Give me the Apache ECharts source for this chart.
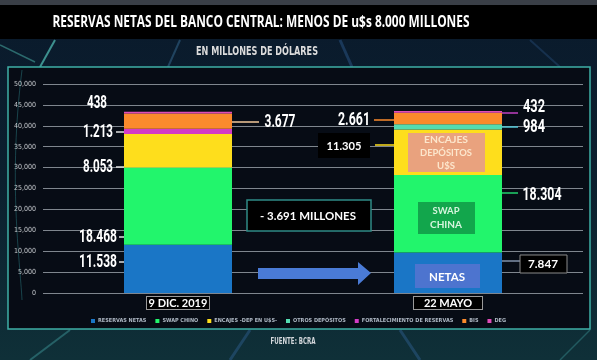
<!DOCTYPE html>
<html>
<head>
<meta charset="utf-8">
<script src="https://cdn.jsdelivr.net/npm/echarts@6/dist/echarts.min.js"></script>
<style>html,body{margin:0;padding:0;background:#0b1724;}#c{width:597px;height:360px;}</style>
</head>
<body>
<div id="c"></div>
<script>
// ---- data ----
var categories = ['9 DIC. 2019', '22 MAYO'];
var reservasNetas = [11538, 9700];
var swapChino = [18468, 18500];
var encajes = [8053, 10900];
var otrosDepositos = [0, 1270];
var fortalecimiento = [1213, 0];
var bis = [3677, 2750];
var deg = [438, 430];
var seriesNames = ['RESERVAS NETAS', 'SWAP CHINO', 'ENCAJES -DEP EN U$S-', 'OTROS DEPÓSITOS', 'FORTALECIMIENTO DE RESERVAS', 'BIS', 'DEG'];
var yTicks = { min: 0, max: 50000, interval: 5000 };
var labelsBar1 = ['438', '1.213', '8.053', '18.468', '11.538', '3.677'];
var labelsBar2 = ['2.661', '11.305', '432', '984', '18.304', '7.847'];
var diffText = '- 3.691 MILLONES';

var colors = ['#1a76c6', '#22f56c', '#fede1c', '#55dcb2', '#d33cc6', '#fb8a2c', '#e04cb8'];
var seriesData = [reservasNetas, swapChino, encajes, otrosDepositos, fortalecimiento, bis, deg];

var cv = document.createElement('canvas').getContext('2d');
function fit(text, font, w) { cv.font = font; var m = cv.measureText(text).width; return m ? w / m : 1; }
function txt(text, x, y, font, fill, w, z) {
  return { type: 'text', x: x, y: y, z: z || 100, scaleX: w ? fit(text, font, w) : 1,
    style: { text: text, font: font, fill: fill, textAlign: 'center', textVerticalAlign: 'middle', align: 'center', verticalAlign: 'middle' } };
}
function line(x1, y1, x2, y2, color, w, z, op) {
  return { type: 'line', z: z || 90, shape: { x1: x1, y1: y1, x2: x2, y2: y2 }, style: { stroke: color, lineWidth: w || 1.5, opacity: op == null ? 1 : op } };
}
function rect(x, y, w, h, fill, stroke, z, lw) {
  return { type: 'rect', z: z || 95, shape: { x: x, y: y, width: w, height: h }, style: { fill: fill, stroke: stroke || null, lineWidth: lw || 1 } };
}

var numFont = 'bold 18px Roboto';
var g = [];
// background
g.push({ type: 'rect', z: -20, shape: { x: 0, y: 0, width: 597, height: 360 },
  style: { fill: new echarts.graphic.LinearGradient(0, 0, 0, 1, [{ offset: 0, color: '#0a1a2c' }, { offset: 0.5, color: '#0b1f2e' }, { offset: 1, color: '#0f3038' }]) } });
g.push({ type: 'rect', z: -19, shape: { x: 0, y: 0, width: 597, height: 5 }, style: { fill: '#3a3f47' } });
g.push({ type: 'rect', z: -19, shape: { x: 0, y: 5, width: 597, height: 34 }, style: { fill: '#000000' } });
// streaks
g.push(line(55, 40, 40, 67, '#5fe0d0', 2, -18, 0.6));
g.push(line(0, 45, 35, 62, '#5fe0d0', 1.5, -18, 0.4));
g.push(line(180, 40, 168, 67, '#4a90c0', 2, -18, 0.35));
g.push(line(340, 40, 352, 67, '#3a6fb0', 3, -18, 0.35));
g.push(line(530, 40, 560, 67, '#3a6fb0', 2, -18, 0.25));
g.push(line(30, 360, 70, 330, '#4fc0c0', 2, -18, 0.35));
g.push(line(230, 360, 250, 330, '#3a6fb0', 3, -18, 0.35));
g.push(line(420, 360, 400, 330, '#3a6fb0', 3, -18, 0.35));
g.push(line(560, 360, 590, 330, '#4fc0c0', 1.5, -18, 0.3));
// panel
g.push({ type: 'rect', z: -17, shape: { x: 8, y: 67, width: 582, height: 262 }, style: { fill: '#070c15', stroke: '#3fb0a6', lineWidth: 1.5 } });
g.push({ type: 'bezierCurve', z: -16, shape: { x1: 22, y1: 70, x2: 22, y2: 300, cpx1: 8, cpy1: 180, cpx2: 20, cpy2: 260 }, style: { stroke: '#2a7a80', lineWidth: 1, opacity: 0.5, fill: null } });
// title texts
g.push(txt('RESERVAS NETAS DEL BANCO CENTRAL: MENOS DE u$s 8.000 MILLONES', 261, 22, 'bold 16px "Open Sans"', '#ffffff', 417));
g.push(txt('EN MILLONES DE DÓLARES', 257, 52, 'bold 13px "DejaVu Sans Condensed"', '#dcdcdc', 122));
g.push(txt('FUENTE: BCRA', 293, 342, 'bold 9px "DejaVu Sans Condensed"', '#d4d8dc', 45));

// bar 1 labels (left)
g.push(txt(labelsBar1[0], 97, 103, numFont, '#ffffff', 20));
g.push(txt(labelsBar1[1], 98, 132, numFont, '#ffffff', 30));
g.push(line(116, 132, 124, 132, '#e0e0e0', 1.5));
g.push(txt(labelsBar1[2], 98, 167, numFont, '#ffffff', 30));
g.push(line(116, 167, 124, 167, '#e0e0e0', 1.5));
g.push(txt(labelsBar1[3], 98, 237, numFont, '#ffffff', 38));
g.push(line(119, 237, 124, 237, '#e0e0e0', 1.5));
g.push(txt(labelsBar1[4], 98, 262, numFont, '#ffffff', 38));
g.push(line(119, 262, 124, 262, '#e0e0e0', 1.5));
g.push(line(232, 122, 259, 122, '#f4c89a', 1.5));
g.push(txt(labelsBar1[5], 280, 122, numFont, '#ffffff', 31));

// bar 2 labels
g.push(txt(labelsBar2[0], 354, 120, numFont, '#ffffff', 32));
g.push(line(374, 120, 394, 120, '#fb8a2c', 1.5));
g.push(rect(318, 133, 52, 25, '#000000'));
g.push(txt(labelsBar2[1], 344, 146, 'bold 12px Lato', '#ffffff', 35));
g.push(line(375, 145, 394, 145, '#fede1c', 1.5));
g.push(line(502, 113, 518, 113, '#c040c0', 1.5));
g.push(txt(labelsBar2[2], 534, 107, numFont, '#ffffff', 22));
g.push(line(502, 127, 518, 127, '#55c8d8', 1.5));
g.push(txt(labelsBar2[3], 534, 127, numFont, '#ffffff', 22));
g.push(line(502, 193, 518, 193, '#22d06c', 1.5));
g.push(txt(labelsBar2[4], 542, 195, numFont, '#ffffff', 39));
g.push(line(502, 261, 520, 261, '#8090a8', 1.5));
g.push(rect(520, 255, 47, 18, '#000000', '#8a8a8a', 95, 1));
g.push(txt(labelsBar2[5], 543, 264, 'bold 12px Lato', '#ffffff', 30));

// overlays on bar 2
g.push(rect(408, 133, 77, 39, '#e9a27e'));
g.push(txt('ENCAJES', 446, 140, 'bold 10px Lato', '#fce6cc', 44));
g.push(txt('DEPÓSITOS', 446, 153, 'bold 10px Lato', '#fce6cc', 52));
g.push(txt('U$S', 446, 166, 'bold 10px Lato', '#fce6cc', 18));
g.push(rect(418, 202, 57, 32, '#12a64c'));
g.push(txt('SWAP', 446, 211, 'bold 10px Lato', '#d6f5de', 27));
g.push(txt('CHINA', 446, 225, 'bold 10px Lato', '#d6f5de', 32));
g.push(rect(415, 264, 65, 24, '#4d74cf'));
g.push(txt('NETAS', 447, 277, 'bold 12px Lato', '#ffffff', 36));

// difference box + arrow
g.push(rect(247, 200, 124, 31, '#000000', '#2f8a86', 95, 1.5));
g.push(txt(diffText, 308, 216, 'bold 12px Lato', '#ffffff', 96));
g.push({ type: 'polygon', z: 95, shape: { points: [[258, 268], [358, 268], [358, 262], [371, 273], [358, 285], [358, 279], [258, 279]] }, style: { fill: '#4a7bd6' } });

var series = seriesNames.map(function (n, i) {
  return { name: n, type: 'bar', stack: 'total', data: seriesData[i], barWidth: 108,
    itemStyle: { color: colors[i] }, emphasis: { disabled: true } };
});

var chart = echarts.init(document.getElementById('c'), null, { renderer: 'canvas' });
chart.setOption({
  animation: false,
  color: colors,
  grid: { left: 43, right: 14, top: 84, bottom: 67 },
  legend: {
    data: seriesNames, left: 'center', top: 313, icon: 'rect', itemWidth: 4, itemHeight: 4, itemGap: 9,
    textStyle: { color: '#aeb8c4', fontSize: 5.5, fontFamily: '"DejaVu Sans Condensed"', fontWeight: 'bold', padding: [0, 0, 0, -2] }
  },
  xAxis: {
    type: 'category', data: categories,
    axisLine: { show: false }, axisTick: { show: false },
    axisLabel: {
      margin: 4,
      formatter: function (v, i) { return (i === 0 ? '{a|' : '{b|') + v + '}'; },
      rich: {
        a: { color: '#ffffff', fontSize: 11, fontWeight: 'bold', fontFamily: 'Lato', backgroundColor: '#000000',
          borderColor: '#9a9a9a', borderWidth: 1, width: 56, align: 'center', padding: [1, 3, 0, 3] },
        b: { color: '#ffffff', fontSize: 11, fontWeight: 'bold', fontFamily: 'Lato', backgroundColor: '#000000',
          borderColor: '#9a9a9a', borderWidth: 1, width: 62, align: 'center', padding: [1, 3, 0, 3] }
      }
    }
  },
  yAxis: {
    type: 'value', min: yTicks.min, max: yTicks.max, interval: yTicks.interval,
    axisLine: { show: false }, axisTick: { show: false },
    splitLine: { lineStyle: { color: '#7f868e', width: 1 } },
    axisLabel: { color: '#c4c8cc', fontSize: 7, fontFamily: '"DejaVu Sans Condensed"', margin: 7,
      formatter: function (v) { return v.toLocaleString('en-US'); } }
  },
  graphic: g,
  series: series
});
</script>
</body>
</html>
